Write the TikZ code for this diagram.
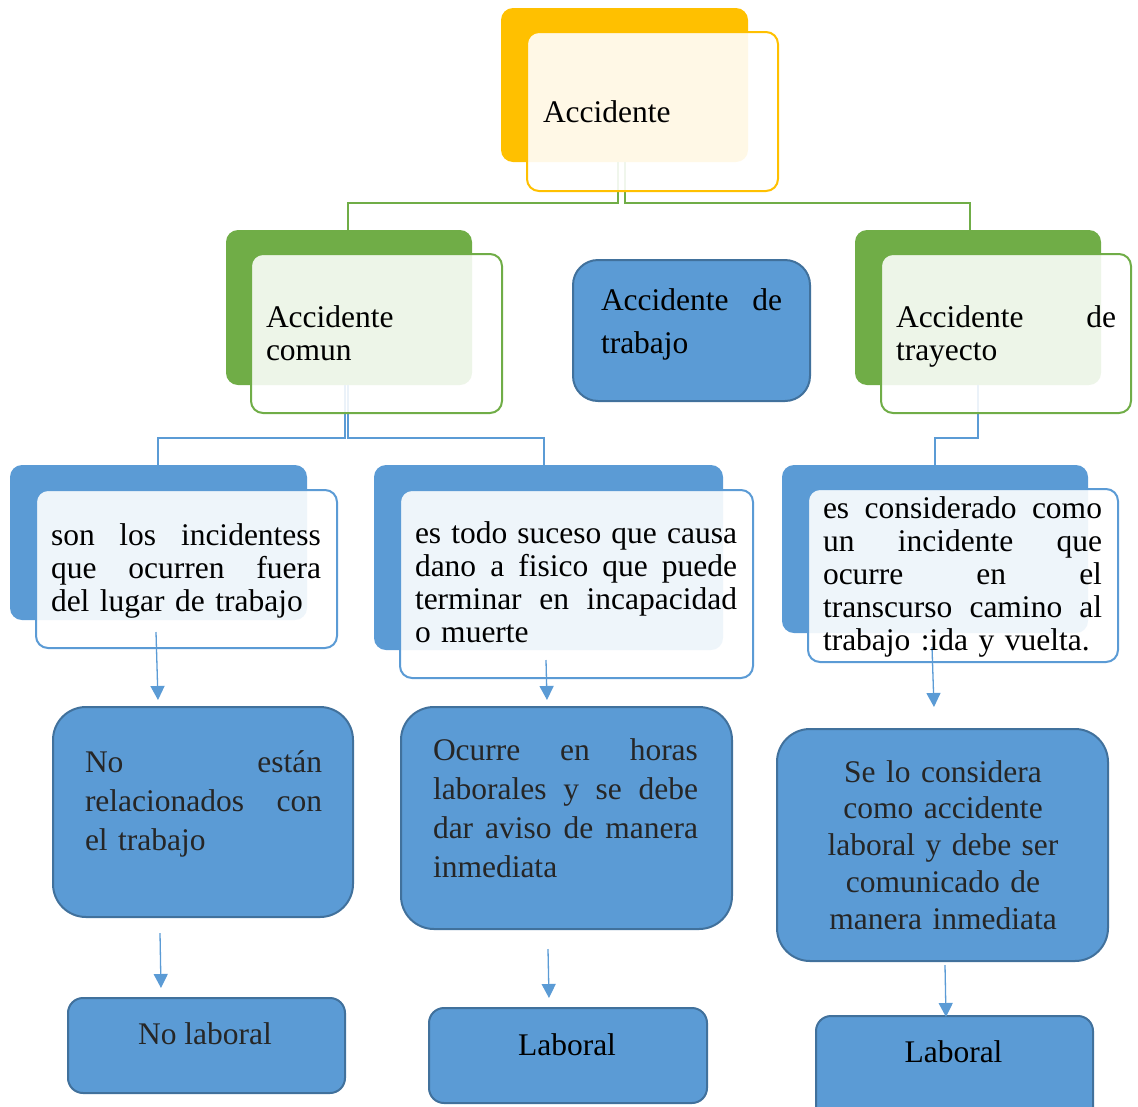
\documentclass[tikz,border=0pt]{standalone}
\usepackage{fontspec}
\setmainfont{Liberation Serif}
\usetikzlibrary{arrows.meta,calc}
\definecolor{cyell}{HTML}{FFC000}
\definecolor{cgreen}{HTML}{70AD47}
\definecolor{cblue}{HTML}{5B9BD5}
\definecolor{cbord}{HTML}{41719C}
\definecolor{ctxt}{HTML}{262626}
\newcommand\jst[2]{{\spaceskip=\fontdimen2\font plus 1fil\relax\makebox[#1pt][s]{#2}}}
\newcommand\bx[6]{%
  \pgfmathsetmacro\bxcx{(#3+#5)/2}%
  \pgfmathsetmacro\bxcy{(#4+#6)/2}%
  \pgfmathsetmacro\bxw{#5-#3}%
  \pgfmathsetmacro\bxh{#6-#4}%
  \node[#2, minimum width=\bxw pt, minimum height=\bxh pt] (#1) at (\bxcx,\bxcy) {};}
\begin{document}
\begin{tikzpicture}[x=1pt,y=-1pt,
  base/.style={rectangle, inner sep=0pt, outer sep=0pt},
  yfill/.style={base, fill=cyell, rounded corners=12pt},
  yout/.style={base, draw=cyell, line width=2pt, fill=white, fill opacity=0.9, rounded corners=12pt},
  gfill/.style={base, fill=cgreen, rounded corners=12pt},
  gout/.style={base, draw=cgreen, line width=2pt, fill=white, fill opacity=0.88, rounded corners=12pt},
  bfill/.style={base, fill=cblue, rounded corners=12pt},
  bout/.style={base, draw=cblue, line width=2pt, fill=white, fill opacity=0.9, rounded corners=12pt},
  bbox/.style={base, fill=cblue, draw=cbord, line width=2pt},
  gline/.style={draw=cgreen, line width=2pt},
  bline/.style={draw=cblue, line width=2pt},
  arr/.style={draw=cblue, line width=1.3pt, -{Triangle[width=14pt,length=14pt]}},
  txt/.style={inner sep=0pt, outer sep=0pt, anchor=base west, align=left, font=\fontsize{31.5}{33}\selectfont},
  ctr/.style={inner sep=0pt, outer sep=0pt, anchor=base, align=center, font=\fontsize{31.5}{33}\selectfont}
]
\useasboundingbox (0,0) rectangle (1138,1106);
% filled back boxes
\bx{topF}{yfill}{501}{8}{748}{162}
\bx{comF}{gfill}{226}{230}{472}{385}
\bx{trayF}{gfill}{855}{230}{1101}{385}
\bx{L3aF}{bfill}{10}{465}{307}{620}
\bx{L3bF}{bfill}{374}{465}{723}{650}
\bx{L3cF}{bfill}{782}{465}{1088}{633}
% connectors
\draw[gline] ([xshift=-6.5pt]topF.south) -- ++(0,41) -| ([xshift=-1pt]comF.north);
\draw[gline] (topF.south) -- ++(0,41) -| ([xshift=-8pt]trayF.north);
\draw[bline] ([xshift=-4pt]comF.south) -- ++(0,53) -| ([xshift=-1pt]L3aF.north);
\draw[bline] ([xshift=-1pt]comF.south) -- ++(0,53) -| ([xshift=-4.5pt]L3bF.north);
\draw[bline] (trayF.south) -- ++(0,53) -| (L3cF.north);
% outline front boxes
\bx{topO}{yout}{527}{32}{778}{191}
\bx{comO}{gout}{251}{254}{502}{413}
\bx{trayO}{gout}{881}{254}{1131}{413}
\bx{L3aO}{bout}{36}{490}{337}{648}
\bx{L3bO}{bout}{400}{490}{753}{678}
\bx{L3cO}{bout}{808}{489}{1118}{662}
% solid blue boxes
\bx{trab}{bbox, rounded corners=25pt}{573}{260}{810}{401}
\bx{L4a}{bbox, rounded corners=33pt}{53}{707}{353}{917}
\bx{L4b}{bbox, rounded corners=33pt}{401}{707}{732}{929}
\bx{L4c}{bbox, rounded corners=33pt}{777}{729}{1108}{961}
\bx{L5a}{bbox, rounded corners=15pt}{68}{998}{345}{1093}
\bx{L5b}{bbox, rounded corners=15pt}{429}{1008}{707}{1103}
\bx{L5c}{bbox, rounded corners=15pt}{816}{1016}{1093}{1125}
% arrows
\coordinate (a1s) at (156,632); \coordinate (a1e) at (158,700);
\coordinate (a2s) at (546,660); \coordinate (a2e) at (547,700);
\coordinate (a3s) at (932,647); \coordinate (a3e) at (934,707);
\coordinate (b1s) at (160,933); \coordinate (b1e) at (161,988);
\coordinate (b2s) at (548,949); \coordinate (b2e) at (549,998);
\coordinate (b3s) at (945,965); \coordinate (b3e) at (946,1017);
\draw[arr] (a1s) -- (a1e);
\draw[arr] (a2s) -- (a2e);
\draw[arr] (a3s) -- (a3e);
\draw[arr] (b1s) -- (b1e);
\draw[arr] (b2s) -- (b2e);
\draw[arr] (b3s) -- (b3e);
% texts
\node[txt] (t0) at (543,122) {Accidente};
\node[txt, text width=220pt] (t1) at (266,327) {Accidente\\comun};
\node[txt, text width=181pt, font=\fontsize{31.5}{43}\selectfont] (t2) at (601,310) {\jst{181}{Accidente de}\\trabajo};
\node[txt, text width=220pt] (t3) at (896,327) {\jst{220}{Accidente de}\\trayecto};
\node[txt, text width=270pt] (t4) at (51,545) {\jst{270}{son los incidentess}\\\jst{270}{que ocurren fuera}\\del lugar de trabajo};
\node[txt, text width=322pt] (t5) at (415,543) {\jst{322}{es todo suceso que causa}\\\jst{322}{dano a fisico que puede}\\\jst{322}{terminar en incapacidad}\\o muerte};
\node[txt, text width=279pt] (t6) at (823,518) {\jst{279}{es considerado como}\\\jst{279}{un incidente que}\\\jst{279}{ocurre en el}\\\jst{279}{transcurso camino al}\\trabajo :ida y vuelta.};
\node[txt, text width=237pt, text=ctxt, font=\fontsize{31.5}{39.3}\selectfont] (t7) at (85,772) {\jst{237}{No están}\\\jst{237}{relacionados con}\\el trabajo};
\node[txt, text width=265pt, text=ctxt, font=\fontsize{31.5}{39.3}\selectfont] (t8) at (433,760) {\jst{265}{Ocurre en horas}\\\jst{265}{laborales y se debe}\\\jst{265}{dar aviso de manera}\\inmediata};
\node[ctr, text width=300pt, text=ctxt, font=\fontsize{31.5}{36.8}\selectfont] (t9) at (943,782) {Se lo considera\\como accidente\\laboral y debe ser\\comunicado de\\manera inmediata};
\node[ctr, text=ctxt] (t10) at (205,1044) {No laboral};
\node[ctr] (t11) at (567,1055) {Laboral};
\node[ctr] (t12) at (953.5,1062) {Laboral};
\end{tikzpicture}
\end{document}
